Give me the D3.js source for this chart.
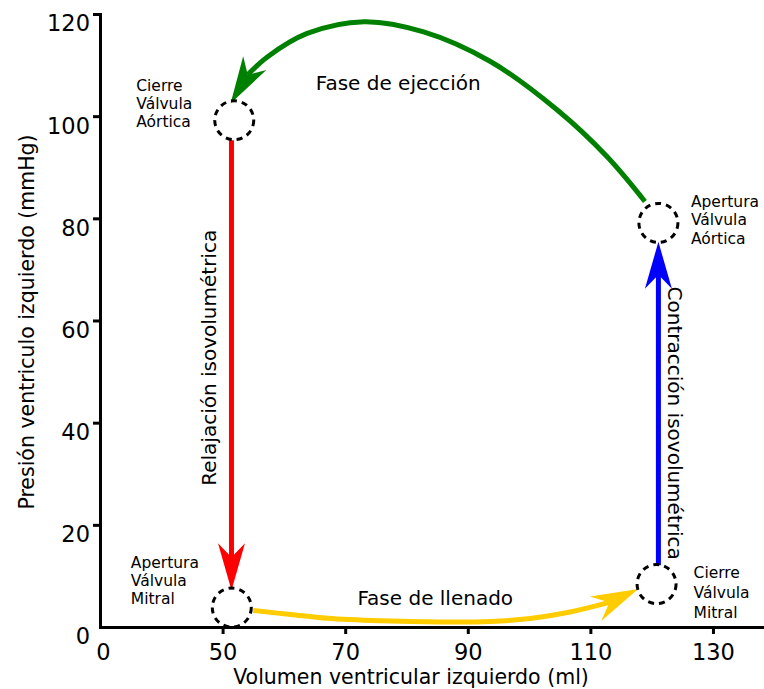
<!DOCTYPE html>
<html><head><meta charset="utf-8">
<script src="https://cdn.jsdelivr.net/npm/d3@7"></script>
<style>
body{margin:0;background:#fff}
svg{display:block;font-family:"DejaVu Sans",Verdana,sans-serif}
</style>
</head><body>
<svg id="chart" width="764" height="689"></svg>
<script>
// ---------- data ----------
const xTickValues = [30, 50, 70, 90, 110, 130];
const xTickLabels = ["0", "50", "70", "90", "110", "130"];
const yTickValues = [0, 20, 40, 60, 80, 100, 120];
const yTickLabels = ["0", "20", "40", "60", "80", "100", "120"];

// valve events (volume ml, pressure mmHg)
const valveNames = [["Cierre", "Válvula", "Aórtica"], ["Apertura", "Válvula", "Aórtica"],
                    ["Apertura", "Válvula", "Mitral"], ["Cierre", "Válvula", "Mitral"]];
const valveVolume = [51.9, 121.1, 51.5, 120.8];
const valvePressure = [99.2, 79.1, 3.8, 8.4];

// phases (last point = arrow tip)
const ejectionVolume = [118.9, 112.7, 104.6, 93.7, 82.8, 73.1, 63.8, 57.3, 54.1, 51.3];
const ejectionPressure = [83.3, 92.1, 101.2, 110.7, 116.5, 118.5, 116.2, 111.6, 108.1, 102.5];
const fillingVolume = [55.0, 61.1, 67.1, 75.8, 85.5, 93.7, 100.2, 106.7, 113.1, 117.8];
const fillingPressure = [3.23, 2.45, 1.70, 1.21, 0.98, 1.08, 1.66, 2.94, 4.82, 7.44];
const relaxVolume = [51.45, 51.45];
const relaxPressure = [95.3, 7.2];
const contractVolume = [121.1, 121.1];
const contractPressure = [12.1, 75.4];

const phaseNames = ["Fase de ejección", "Fase de llenado", "Relajación isovolumétrica", "Contracción isovolumétrica"];
const xTitle = "Volumen ventricular izquierdo (ml)";
const yTitle = "Presión ventriculo izquierdo (mmHg)";

// ---------- scales ----------
const svg = d3.select("#chart");
const x = d3.scaleLinear().domain([30, 138]).range([100, 762]);
const y = d3.scaleLinear().domain([0, 120]).range([627, 14]);

// ---------- axes ----------
const xAxis = d3.axisBottom(x).tickValues(xTickValues).tickFormat((d, i) => xTickLabels[i])
  .tickSize(7).tickPadding(10).tickSizeOuter(0);
const yAxis = d3.axisLeft(y).tickValues(yTickValues).tickFormat((d, i) => yTickLabels[i])
  .tickSize(7).tickPadding(3).tickSizeOuter(0);

const gx = svg.append("g").attr("transform", "translate(0,627)").call(xAxis);
const gy = svg.append("g").attr("transform", "translate(100,0)").call(yAxis);
[gx, gy].forEach(g => {
  g.select(".domain").attr("stroke", "#000").attr("stroke-width", 3).attr("stroke-linecap", "square");
  g.selectAll(".tick line").attr("stroke", "#000").attr("stroke-width", 3);
  g.selectAll(".tick text").attr("fill", "#000").style("font-size", "22.5px")
    .style("font-family", "'DejaVu Sans',Verdana,sans-serif");
});
gx.selectAll(".tick").filter((d, i) => i === 0).select("line").remove();
gx.selectAll(".tick").filter((d, i) => i === 0).select("text").attr("dx", 3);
gy.selectAll(".tick").filter(d => d === 0).select("line").remove();
gy.selectAll(".tick text").attr("dy", "0.75em");

svg.append("text").attr("x", 411).attr("y", 683.5).attr("text-anchor", "middle")
  .style("font-size", "20.5px").text(xTitle);
svg.append("text").attr("transform", "translate(34,322) rotate(-90)").attr("text-anchor", "middle")
  .style("font-size", "20.5px").text(yTitle);

// ---------- arrows ----------
const HEAD_L = 47, HEAD_W = 13.5, HEAD_N = 33;
function drawArrow(vols, press, color, width) {
  const pts = vols.map((v, i) => [x(v), y(press[i])]);
  const tip = pts[pts.length - 1];
  const prev = pts[pts.length - 2];
  let dx = tip[0] - prev[0], dy = tip[1] - prev[1];
  const len = Math.hypot(dx, dy);
  const ux = dx / len, uy = dy / len;
  const nx = -uy, ny = ux;
  let body = pts.slice(0, pts.length - 1);
  let N = HEAD_N;
  if (len > 40) body.push([tip[0] - HEAD_N * ux, tip[1] - HEAD_N * uy]);
  else N = len;
  const line = d3.line().curve(body.length > 2 ? d3.curveCatmullRom.alpha(0.5) : d3.curveLinear);
  svg.append("path").attr("d", line(body)).attr("fill", "none")
    .attr("stroke", color).attr("stroke-width", width);
  const head = [
    tip,
    [tip[0] - HEAD_L * ux + HEAD_W * nx, tip[1] - HEAD_L * uy + HEAD_W * ny],
    [tip[0] - N * ux, tip[1] - N * uy],
    [tip[0] - HEAD_L * ux - HEAD_W * nx, tip[1] - HEAD_L * uy - HEAD_W * ny]
  ];
  svg.append("path").attr("d", "M" + head.map(p => p.join(",")).join("L") + "Z").attr("fill", color);
}
drawArrow(ejectionVolume, ejectionPressure, "#008000", 5);
drawArrow(fillingVolume, fillingPressure, "#ffcc00", 5);
drawArrow(relaxVolume, relaxPressure, "#ff0000", 5);
drawArrow(contractVolume, contractPressure, "#0000ff", 5);

// ---------- valve circles ----------
svg.selectAll("circle.valve").data(valveVolume).enter().append("circle")
  .attr("class", "valve")
  .attr("cx", d => x(d)).attr("cy", (d, i) => y(valvePressure[i])).attr("r", 19.5)
  .attr("fill", "none").attr("stroke", "#000").attr("stroke-width", 3)
  .attr("stroke-dasharray", "6,5");

const labelDx = [-98, 32.5, -101, 37];
const labelDy = [-29.3, -16, -39.6, -5.8];
const labelGap = [18, 18.5, 17.8, 20];
valveNames.forEach((lines, i) => {
  const cx = x(valveVolume[i]), cy = y(valvePressure[i]);
  const t = svg.append("text").style("font-size", "15.5px").attr("fill", "#000");
  lines.forEach((s, j) => {
    t.append("tspan").attr("x", cx + labelDx[i]).attr("y", cy + labelDy[i] + j * labelGap[i]).text(s);
  });
});

// ---------- phase labels ----------
svg.append("text").attr("x", x(65.2)).attr("y", y(105.1)).style("font-size", "20px").text(phaseNames[0]);
svg.append("text").attr("x", x(72.0)).attr("y", y(4.3)).style("font-size", "20px").text(phaseNames[1]);
svg.append("text").attr("transform", `translate(${x(48.9)},${y(52.7)}) rotate(-90)`)
  .attr("text-anchor", "middle").style("font-size", "20px").text(phaseNames[2]);
svg.append("text").attr("transform", `translate(${x(122.6)},${y(39.9)}) rotate(90)`)
  .attr("text-anchor", "middle").style("font-size", "20px").text(phaseNames[3]);
</script>
</body></html>
